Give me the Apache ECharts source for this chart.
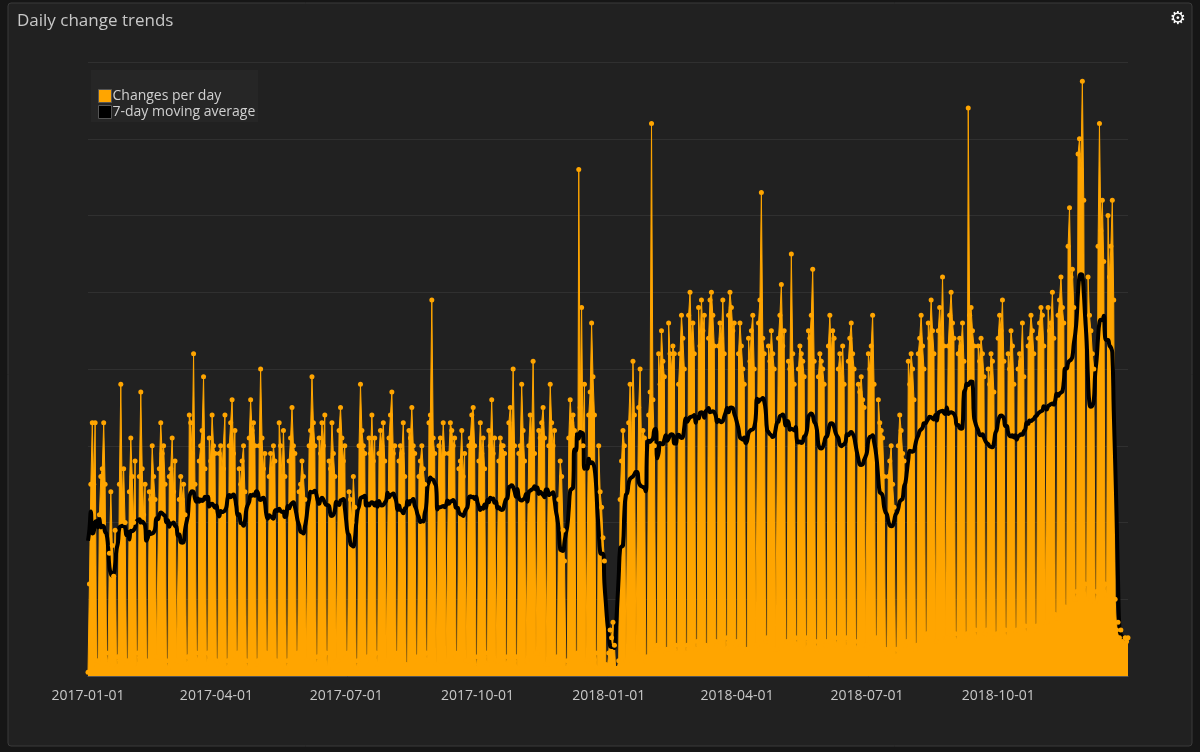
<!DOCTYPE html>
<html>
<head>
<meta charset="utf-8">
<script src="https://cdn.jsdelivr.net/npm/echarts@6/dist/echarts.min.js"></script>
<style>
  html, body { margin: 0; padding: 0; background: #161616; }
  #chart { width: 1200px; height: 752px; }
</style>
</head>
<body>
<div id="chart"></div>
<script>
// first day of data, one row per week (Sun..Sat)
const startDate = "2017-01-01";
const weeks = [
  [5, 120, 250, 330, 250, 330, 15],
  [20, 210, 260, 270, 330, 250, 30],
  [15, 160, 240, 170, 130, 190, 10],
  [25, 250, 380, 230, 270, 200, 15],
  [20, 240, 310, 260, 200, 280, 10],
  [30, 260, 370, 270, 210, 250, 20],
  [15, 240, 230, 300, 260, 230, 25],
  [25, 270, 330, 290, 300, 250, 20],
  [10, 260, 270, 310, 240, 280, 20],
  [20, 230, 260, 230, 250, 210, 15],
  [25, 340, 330, 290, 420, 250, 30],
  [20, 280, 300, 320, 390, 270, 15],
  [30, 310, 280, 340, 300, 290, 20],
  [15, 290, 300, 270, 270, 340, 10],
  [20, 300, 330, 360, 290, 320, 25],
  [30, 270, 250, 280, 300, 240, 20],
  [10, 310, 360, 320, 330, 300, 15],
  [20, 300, 400, 310, 270, 290, 30],
  [25, 260, 290, 270, 300, 280, 20],
  [15, 330, 300, 260, 320, 260, 10],
  [20, 280, 310, 350, 300, 290, 25],
  [30, 240, 250, 280, 260, 230, 20],
  [20, 300, 320, 390, 330, 300, 15],
  [25, 310, 290, 330, 300, 340, 30],
  [10, 280, 270, 330, 290, 260, 20],
  [20, 320, 350, 310, 280, 300, 25],
  [30, 240, 230, 200, 260, 220, 10],
  [20, 300, 380, 320, 300, 290, 20],
  [25, 310, 290, 340, 280, 310, 30],
  [15, 290, 320, 300, 330, 280, 20],
  [20, 310, 340, 370, 290, 300, 25],
  [30, 280, 300, 290, 330, 260, 15],
  [10, 320, 310, 350, 300, 290, 20],
  [25, 260, 280, 300, 270, 250, 30],
  [20, 330, 340, 490, 310, 290, 15],
  [15, 300, 310, 280, 330, 290, 20],
  [20, 290, 330, 320, 300, 310, 25],
  [30, 270, 280, 320, 260, 290, 20],
  [20, 300, 310, 340, 350, 300, 10],
  [25, 280, 330, 290, 310, 270, 30],
  [15, 320, 300, 360, 290, 310, 20],
  [20, 280, 310, 300, 300, 290, 15],
  [25, 330, 350, 310, 400, 300, 25],
  [10, 290, 300, 380, 320, 280, 20],
  [20, 300, 340, 310, 410, 290, 30],
  [30, 320, 310, 330, 350, 310, 15],
  [15, 300, 380, 330, 300, 320, 20],
  [25, 230, 280, 260, 190, 150, 10],
  [20, 310, 360, 330, 340, 320, 25],
  [30, 660, 350, 480, 300, 380, 20],
  [20, 340, 370, 460, 390, 340, 30],
  [10, 300, 240, 220, 180, 150, 15],
  [10, 30, 60, 50, 70, 40, 5],
  [10, 20, 230, 280, 320, 300, 20],
  [20, 330, 380, 300, 410, 340, 30],
  [30, 350, 400, 300, 320, 310, 20],
  [25, 340, 370, 720, 360, 300, 35],
  [40, 420, 380, 450, 410, 390, 30],
  [35, 460, 420, 400, 430, 420, 40],
  [30, 380, 420, 470, 440, 400, 30],
  [40, 470, 500, 440, 460, 420, 35],
  [45, 480, 430, 490, 450, 470, 40],
  [35, 440, 490, 500, 470, 430, 45],
  [40, 430, 460, 440, 490, 420, 35],
  [50, 470, 500, 480, 450, 460, 40],
  [45, 420, 460, 430, 400, 380, 30],
  [35, 440, 410, 450, 470, 400, 40],
  [40, 460, 490, 630, 440, 420, 45],
  [50, 430, 410, 450, 420, 400, 35],
  [35, 440, 470, 510, 430, 450, 40],
  [45, 410, 400, 550, 420, 380, 50],
  [40, 400, 430, 420, 410, 390, 35],
  [50, 450, 440, 470, 530, 410, 45],
  [35, 390, 420, 410, 400, 380, 40],
  [45, 430, 470, 420, 450, 440, 50],
  [40, 400, 420, 390, 430, 380, 35],
  [50, 410, 440, 460, 420, 400, 45],
  [35, 380, 370, 390, 360, 350, 40],
  [40, 420, 400, 430, 470, 380, 45],
  [50, 360, 330, 320, 310, 260, 35],
  [30, 260, 280, 300, 250, 220, 25],
  [35, 300, 340, 320, 290, 280, 40],
  [45, 410, 380, 420, 400, 360, 35],
  [40, 420, 440, 470, 430, 400, 50],
  [55, 460, 440, 490, 450, 420, 45],
  [45, 450, 480, 440, 520, 430, 50],
  [50, 430, 470, 500, 460, 440, 55],
  [45, 420, 440, 430, 460, 410, 50],
  [55, 740, 470, 480, 450, 430, 60],
  [50, 430, 410, 440, 420, 390, 55],
  [60, 400, 380, 420, 410, 370, 50],
  [55, 440, 470, 450, 490, 410, 60],
  [50, 420, 400, 450, 430, 380, 55],
  [60, 400, 420, 410, 460, 390, 65],
  [55, 430, 440, 470, 450, 420, 60],
  [65, 440, 460, 480, 470, 430, 70],
  [70, 480, 450, 460, 500, 440, 80],
  [75, 470, 490, 520, 480, 460, 90],
  [85, 560, 610, 520, 530, 480, 100],
  [110, 680, 700, 660, 775, 620, 120],
  [100, 520, 470, 450, 420, 400, 95],
  [110, 560, 720, 580, 620, 540, 120],
  [105, 600, 520, 560, 620, 490, 100],
  [60, 70, 50, 60, 45, 40, 50],
  [45, 50]
];

const days = [];
const changes = [];
const d0 = new Date(startDate + "T00:00:00Z");
weeks.forEach((w, wi) => {
  w.forEach((v, di) => {
    const d = new Date(d0.getTime() + (wi * 7 + di) * 86400000);
    days.push(d.toISOString().slice(0, 10));
    changes.push(v);
  });
});

// 7-day moving average (centered)
const movingAvg = changes.map((v, i) => {
  let sum = 0, n = 0;
  for (let k = i - 3; k <= i + 3; k++) {
    if (k >= 0 && k < changes.length) { sum += changes[k]; n++; }
  }
  return +(sum / n).toFixed(1);
});

const tickDates = ["2017-01-01", "2017-04-01", "2017-07-01", "2017-10-01", "2018-01-01", "2018-04-01", "2018-07-01", "2018-10-01"];

const chart = echarts.init(document.getElementById("chart"));
chart.setOption({
  backgroundColor: "#161616",
  animation: false,
  title: {
    text: "Daily change trends",
    left: 12, top: 8,
    textStyle: { color: "#c8c8c8", fontSize: 17, fontWeight: "normal", fontFamily: "Open Sans" }
  },
  graphic: [
    {
      type: "rect", z: -10, silent: true,
      shape: { x: 8, y: 3, width: 1184, height: 743, r: 3 },
      style: { fill: "#212121", stroke: "#3a3a3a", lineWidth: 1 }
    },
    {
      type: "rect", z: -5, silent: true,
      shape: { x: 91, y: 70, width: 167, height: 52 },
      style: { fill: "#262626" }
    },
    {
      type: "text", right: 14, top: 10,
      style: { text: "⚙", fill: "#ffffff", fontSize: 18, fontFamily: "DejaVu Sans" }
    }
  ],
  legend: {
    left: 93, top: 84, orient: "vertical", itemGap: 2,
    itemWidth: 13, itemHeight: 13, icon: "rect",
    textStyle: { color: "#d0d0d0", fontSize: 14, fontFamily: "Open Sans", padding: [0, 0, 0, -4] },
    data: [
      { name: "Changes per day", itemStyle: { color: "#ffa500", borderColor: "#555", borderWidth: 1 } },
      { name: "7-day moving average", itemStyle: { color: "#000000", borderColor: "#555", borderWidth: 1 } }
    ]
  },
  grid: { left: 88, right: 72, top: 62, bottom: 76 },
  xAxis: {
    type: "category",
    data: days,
    boundaryGap: false,
    axisLine: { lineStyle: { color: "#555" } },
    axisTick: { show: false },
    axisLabel: {
      color: "#c8c8c8", fontSize: 14, fontFamily: "Open Sans", margin: 13,
      interval: (i, v) => tickDates.includes(v),
      formatter: v => v
    },
    splitLine: { show: false }
  },
  yAxis: {
    type: "value", min: 0, max: 800, interval: 100,
    axisLabel: { show: false },
    axisLine: { show: false },
    axisTick: { show: false },
    splitLine: { lineStyle: { color: "#303030" } }
  },
  series: [
    {
      name: "Changes per day",
      type: "line",
      data: changes,
      color: "#ffa500",
      symbol: "circle", symbolSize: 5, showAllSymbol: true,
      lineStyle: { width: 1, color: "#ffa500" },
      areaStyle: { color: "#ffa500", opacity: 1 }
    },
    {
      name: "7-day moving average",
      type: "line",
      data: movingAvg,
      color: "#000000",
      symbol: "none", smooth: true,
      lineStyle: { width: 4, color: "#000000" }
    }
  ]
});
</script>
</body>
</html>
